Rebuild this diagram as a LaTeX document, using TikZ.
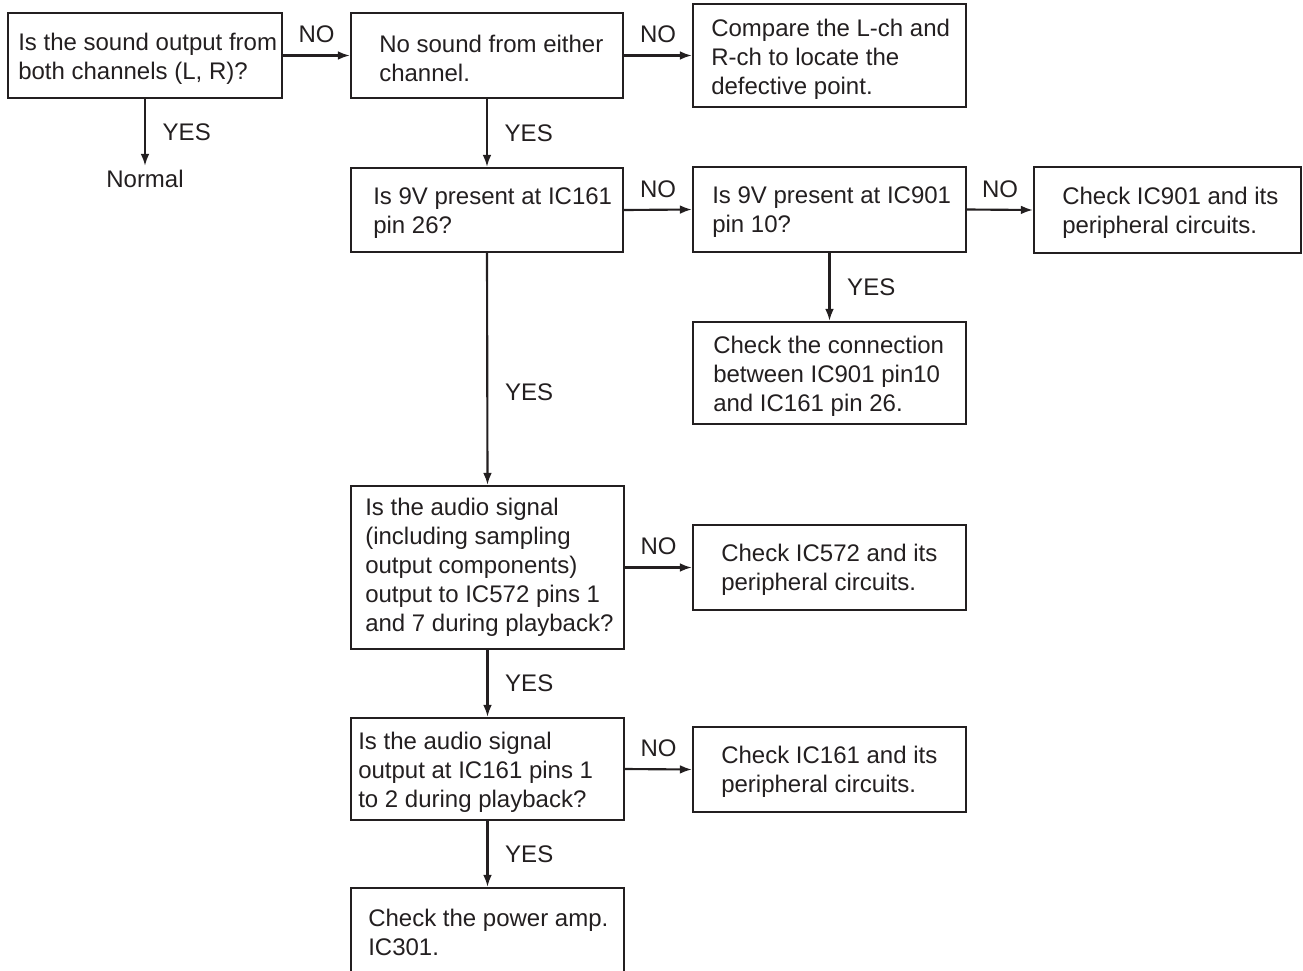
\documentclass[tikz,border=0pt]{standalone}
\usepackage{fontspec}
\setmainfont{Liberation Sans}
\usetikzlibrary{arrows.meta,fit}
\definecolor{ink}{HTML}{231F20}
\tikzset{
  boxst/.style={draw=ink, line width=1.6pt, inner sep=0pt, rectangle},
  txt/.style={align=left, inner sep=0pt, text=ink, font=\fontsize{18}{21.75}\selectfont},
  arr/.style={draw=ink, line width=1.6pt, -{Latex[length=9pt,width=6.5pt]}},
  nolab/.style={above=8.5pt, inner sep=0pt, text=ink, font=\fontsize{18}{21.75}\selectfont},
  yeslab/.style={right=12.5pt, inner sep=0pt, text=ink, font=\fontsize{18}{21.75}\selectfont}
}
\newcommand\mkbox[8]{%
  \node[boxst, fit={(#2,#3) (#4,#5)}] (#1) {};
  \node[txt, anchor=west] (#1t) at ({#2+#6},{(#3+#5)/2+#8}) {#7};
}
\begin{document}
\begin{tikzpicture}[x=0.75pt,y=-0.75pt]
\useasboundingbox (0,0) rectangle (1303,971);
\clip (0,0) rectangle (1303,971);
\mkbox{b1}{8}{13}{282}{98}{10}{Is the sound output from\\both channels (L, R)?}{3}
\mkbox{b2}{351}{13}{623}{98}{28}{No sound from either\\channel.}{3}
\mkbox{b3}{693}{4}{966}{107}{18}{Compare the L-ch and\\R-ch to locate the\\defective point.}{4}
\mkbox{b4}{351}{168}{623}{252}{22}{Is 9V present at IC161\\pin 26?}{3}
\mkbox{b5}{693}{167}{966}{252}{19}{Is 9V present at IC901\\pin 10?}{3}
\mkbox{b6}{1034}{167}{1301}{253}{28}{Check IC901 and its\\peripheral circuits.}{3}
\mkbox{b7}{693}{322}{966}{424}{20}{Check the connection\\between IC901 pin10\\and IC161 pin 26.}{3}
\mkbox{b8}{351}{486}{624}{649}{14}{Is the audio signal\\(including sampling\\output components)\\output to IC572 pins 1\\and 7 during playback?}{0}
\mkbox{b9}{693}{525}{966}{610}{28}{Check IC572 and its\\peripheral circuits.}{2}
\mkbox{b10}{351}{718}{624}{820}{7}{Is the audio signal\\output at IC161 pins 1\\to 2 during playback?}{3}
\mkbox{b11}{693}{727}{966}{812}{28}{Check IC161 and its\\peripheral circuits.}{2}
\mkbox{b12}{351}{888}{624}{976}{17}{Check the power amp.\\IC301.}{0}
\node[txt, inner sep=3pt] (nm) at (145,179) {Normal};

\draw[arr] (b1.east) -- node[nolab]{NO} (b2.west);
\draw[arr] (b1.south) -- node[yeslab]{YES} (nm.north);
\draw[arr] (b2.east) -- node[nolab]{NO} (b2.east -| b3.west);
\draw[arr] (b2.south) -- node[yeslab]{YES} (b4.north);
\draw[arr] (b4.east) -- node[nolab]{NO} (b5.west);
\draw[arr] (b5.east) -- node[nolab]{NO} (b6.west);
\draw[arr] (b5.south) -- node[yeslab]{YES} (b7.north);
\draw[arr] (b4.south) -- node[yeslab, pos=0.6]{YES} (b8.north);
\draw[arr] (b8.east) -- node[nolab]{NO} (b9.west);
\draw[arr] (b8.south) -- node[yeslab]{YES} (b10.north);
\draw[arr] (b10.east) -- node[nolab]{NO} (b11.west);
\draw[arr] (b10.south) -- node[yeslab]{YES} (b12.north);
\end{tikzpicture}
\end{document}
